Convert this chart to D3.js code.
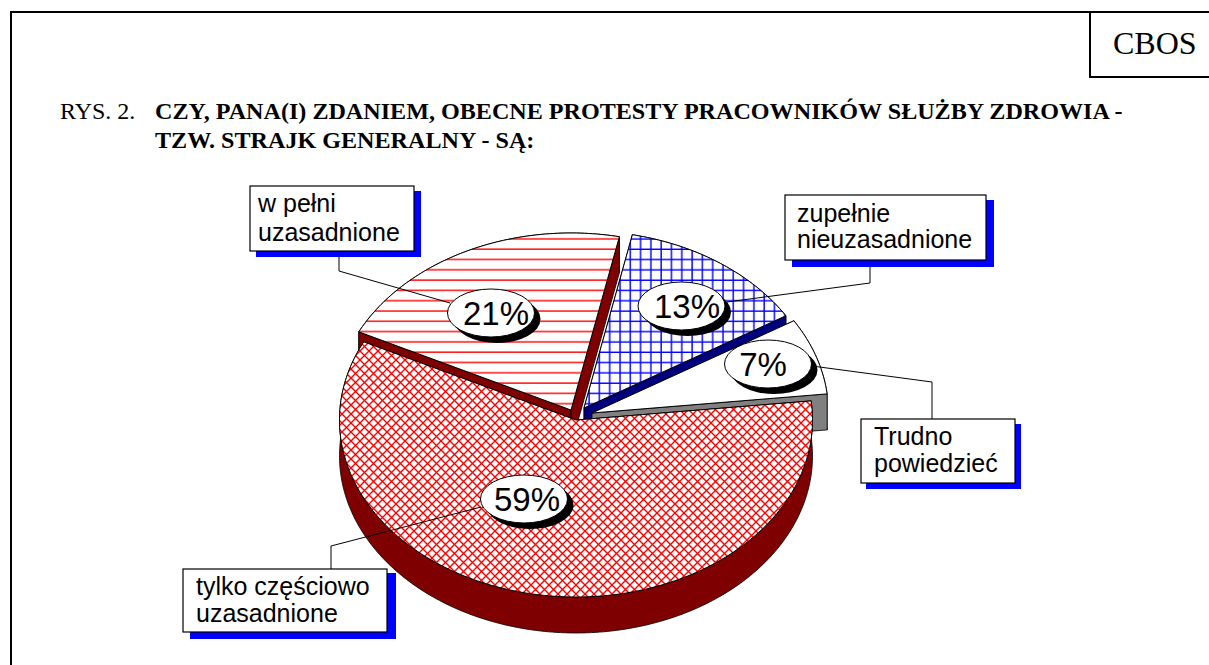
<!DOCTYPE html>
<html lang="pl">

<head>
	<meta charset="UTF-8">
	<title>CBOS Rys. 2</title>
	<script src="https://d3js.org/d3.v7.min.js"></script>
	<style>
		body { margin: 0; background: #fff; }
		svg { display: block; }
		.serif { font-family: "Liberation Serif", serif; fill: #000; }
		.sans { font-family: "Liberation Sans", sans-serif; fill: #000; }
	</style>
</head>

<body>
	<div id="chart"></div>
	<script>
		// data
		const categories = ["tylko częściowo uzasadnione", "w pełni uzasadnione", "zupełnie nieuzasadnione", "Trudno powiedzieć"];
		const values = [59, 21, 13, 7];
		const categoryLines = [["tylko częściowo", "uzasadnione"], ["w pełni", "uzasadnione"], ["zupełnie", "nieuzasadnione"], ["Trudno", "powiedzieć"]];
		const titleLines = ["CZY, PANA(I) ZDANIEM, OBECNE PROTESTY PRACOWNIKÓW SŁUŻBY ZDROWIA -", "TZW. STRAJK GENERALNY - SĄ:"];

		// layout and styles, same order as the categories
		const width = 1209, height = 665;
		const center = { x: 576, y: 420 };
		const rx = 236.5, ry = 177, depth = 36;
		const startDeg = 83.8;
		const explode = [[0, 0], [-5, -10], [8, -12], [16, -7]];
		const wallColors = ["#7f0000", "#7f0000", "#00007f", "#808080"];
		const fills = ["url(#cross)", "url(#lines)", "url(#grid)", "#fff"];
		const drawOrder = [1, 2, 3, 0];
		const boxes = [
			{ x: 183, y: 569, w: 204, h: 63 },
			{ x: 250, y: 186, w: 164, h: 65 },
			{ x: 785, y: 195, w: 201, h: 65 },
			{ x: 861, y: 419, w: 154, h: 64 }
		];
		const shadows = [
			{ x: 190, y: 573, w: 206, h: 66 },
			{ x: 256, y: 191, w: 165, h: 66 },
			{ x: 792, y: 200, w: 202, h: 67 },
			{ x: 866, y: 424, w: 155, h: 65 }
		];
		const textBase = [[595, 622], [212, 241], [222, 248], [445, 472]];
		const textLeft = [196, 258, 797, 874];
		const ovals = [
			{ cx: 524, cy: 499, tx: 527 },
			{ cx: 491, cy: 313, tx: 496 },
			{ cx: 681.5, cy: 306, tx: 687 },
			{ cx: 768, cy: 364, tx: 763 }
		];
		const leaders = [
			[[481, 507], [331, 546], [331, 569]],
			[[450, 303], [339, 271], [339, 251]],
			[[727, 302], [870, 283], [870, 260]],
			[[812, 366], [932, 382], [932, 419]]
		];

		const svg = d3.select("#chart").append("svg")
			.attr("width", width)
			.attr("height", height);

		// hatch patterns
		const defs = svg.append("defs");
		const lines = defs.append("pattern").attr("id", "lines")
			.attr("patternUnits", "userSpaceOnUse").attr("width", 10.3).attr("height", 10.3);
		lines.append("rect").attr("width", 10.3).attr("height", 10.3).attr("fill", "#fff");
		lines.append("line").attr("x1", 0).attr("x2", 10.3).attr("y1", 2).attr("y2", 2)
			.attr("stroke", "#f00").attr("stroke-width", 1.4);

		const grid = defs.append("pattern").attr("id", "grid")
			.attr("patternUnits", "userSpaceOnUse").attr("width", 10.3).attr("height", 10.3);
		grid.append("rect").attr("width", 10.3).attr("height", 10.3).attr("fill", "#fff");
		grid.append("path").attr("d", "M0,2H10.3M2,0V10.3")
			.attr("stroke", "#00f").attr("stroke-width", 1.4).attr("fill", "none");

		const cross = defs.append("pattern").attr("id", "cross")
			.attr("patternUnits", "userSpaceOnUse").attr("width", 9).attr("height", 9);
		cross.append("rect").attr("width", 9).attr("height", 9).attr("fill", "#fff");
		cross.append("path").attr("d", "M0,0L9,9M9,0L0,9")
			.attr("stroke", "#f00").attr("stroke-width", 1.4).attr("fill", "none");

		// frame and CBOS box
		svg.append("path")
			.attr("d", `M11,${height}V12H${width}M1090,12V77H${width}`)
			.attr("fill", "none").attr("stroke", "#000").attr("stroke-width", 2);
		svg.append("text").attr("class", "serif").attr("x", 1113).attr("y", 54)
			.style("font-size", "32px").text("CBOS");

		// title
		svg.append("text").attr("class", "serif").attr("x", 60).attr("y", 119)
			.style("font-size", "24px").text("RYS. 2.");
		svg.selectAll(".title").data(titleLines).enter().append("text")
			.attr("class", "title serif")
			.attr("x", 155)
			.attr("y", (d, i) => 119 + i * 29)
			.style("font-size", "24.12px")
			.style("font-weight", "bold")
			.text(d => d);

		// pie angles, projected on a tilted ellipse
		const pie = d3.pie().sort(null)
			.startAngle(startDeg * Math.PI / 180)
			.endAngle((startDeg + 360) * Math.PI / 180);
		const slices = pie(values);

		const px = (c, a) => c[0] + rx * Math.sin(a);
		const py = (c, a, dz) => c[1] - ry * Math.cos(a) + dz;
		const closed = d3.line();

		function arcPoints(c, s, dz) {
			const n = Math.max(2, Math.ceil((s.endAngle - s.startAngle) * 60));
			return d3.range(n + 1).map(i => {
				const a = s.startAngle + (s.endAngle - s.startAngle) * i / n;
				return [px(c, a), py(c, a, dz)];
			});
		}

		const pieGroup = svg.append("g");
		drawOrder.forEach(i => {
			const s = slices[i];
			const c = [center.x + explode[i][0], center.y + explode[i][1]];
			const top = arcPoints(c, s, 0);
			const bottom = arcPoints(c, s, depth);
			const walls = [
				top.concat(bottom.slice().reverse()),
				[c, top[0], bottom[0], [c[0], c[1] + depth]],
				[c, top[top.length - 1], bottom[bottom.length - 1], [c[0], c[1] + depth]]
			];
			pieGroup.selectAll(null).data(walls).enter().append("path")
				.attr("d", d => closed(d) + "Z")
				.attr("fill", wallColors[i])
				.attr("stroke", "#000")
				.attr("stroke-width", 0.8)
				.attr("stroke-linejoin", "round");
			pieGroup.append("path")
				.attr("d", closed([c].concat(top)) + "Z")
				.attr("fill", fills[i])
				.attr("stroke", "#000")
				.attr("stroke-width", 1)
				.attr("stroke-linejoin", "round");
		});

		// leader lines
		svg.selectAll(".leader").data(leaders).enter().append("path")
			.attr("class", "leader")
			.attr("d", d => d3.line()(d))
			.attr("fill", "none").attr("stroke", "#000").attr("stroke-width", 1);

		// percent ovals with black shadow
		const oval = svg.selectAll(".oval").data(values).enter().append("g").attr("class", "oval");
		oval.append("ellipse")
			.attr("cx", (d, i) => ovals[i].cx + 6).attr("cy", (d, i) => ovals[i].cy + 6)
			.attr("rx", 43.5).attr("ry", 24).attr("fill", "#000");
		oval.append("ellipse")
			.attr("cx", (d, i) => ovals[i].cx).attr("cy", (d, i) => ovals[i].cy)
			.attr("rx", 43.5).attr("ry", 24)
			.attr("fill", "#fff").attr("stroke", "#000").attr("stroke-width", 1);
		oval.append("text").attr("class", "sans")
			.attr("x", (d, i) => ovals[i].tx).attr("y", (d, i) => ovals[i].cy + 12)
			.attr("text-anchor", "middle")
			.style("font-size", "33px")
			.text(d => d + "%");

		// category boxes with blue shadow
		const box = svg.selectAll(".box").data(categories).enter().append("g").attr("class", "box");
		box.append("rect")
			.attr("x", (d, i) => shadows[i].x).attr("y", (d, i) => shadows[i].y)
			.attr("width", (d, i) => shadows[i].w).attr("height", (d, i) => shadows[i].h)
			.attr("fill", "#00f");
		box.append("rect")
			.attr("x", (d, i) => boxes[i].x).attr("y", (d, i) => boxes[i].y)
			.attr("width", (d, i) => boxes[i].w).attr("height", (d, i) => boxes[i].h)
			.attr("fill", "#fff").attr("stroke", "#000").attr("stroke-width", 1.2);
		box.each(function (d, i) {
			d3.select(this).selectAll("text").data(categoryLines[i]).enter().append("text")
				.attr("class", "sans")
				.attr("x", textLeft[i])
				.attr("y", (t, j) => textBase[i][j])
				.style("font-size", "25px")
				.text(t => t);
		});
	</script>
</body>

</html>
